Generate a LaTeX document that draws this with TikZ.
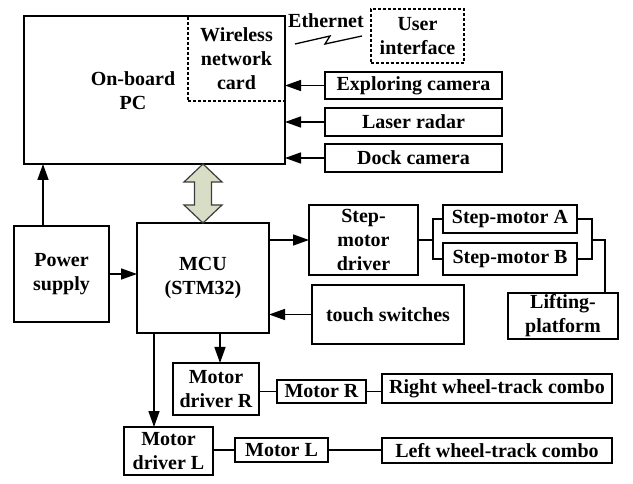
\documentclass[tikz,border=0pt]{standalone}
\usepackage{fontspec}
\setmainfont{Liberation Serif}
\definecolor{busfill}{RGB}{216,221,198}
\definecolor{busline}{RGB}{60,60,60}
\usetikzlibrary{arrows.meta,positioning,calc}

\begin{document}
\begin{tikzpicture}[
  x=1pt, y=-1pt,
  every node/.style={font=\fontsize{20}{24}\selectfont\bfseries},
  blk/.style={draw,line width=1.5pt,inner sep=0pt,outer sep=0pt,align=center},
  dblk/.style={blk,dash pattern=on 3pt off 2pt,line width=1.3pt},
  arr/.style={-{Triangle[length=16pt,width=11pt]},line width=1.5pt},
  lnk/.style={line width=1.5pt},
  bus/.style={draw=busline,fill=busfill,line width=1.2pt,line join=miter},
]
  \useasboundingbox (0,0) rectangle (633,484);

  % On-board PC and its parts
  \node[blk,minimum width=261pt,minimum height=148pt] (pc) at (154.5,90) {};
  \node (pclabel) at (133,91) [align=center] {On-board\\PC};
  \node[dblk,minimum width=97pt,minimum height=85pt] (wifi) at (236.5,58.5) {Wireless\\network\\card};

  % Ethernet link to user interface
  \node (eth) at (326,21) {Ethernet};
  \node[dblk,minimum width=93pt,minimum height=54pt] (ui) at (417.5,36) {User\\interface};
  \coordinate (ethA) at (295,44);
  \coordinate (ethB) at (362,36);
  \draw[lnk,line width=1.3pt] (ethA) -- (330,36) -- (325,44) -- (ethB);

  % Sensors (right)
  \node[blk,minimum width=177pt,minimum height=27pt] (explore) at (413.5,85.5) {Exploring camera};
  \node[blk,minimum width=177pt,minimum height=28pt] (laser) at (413.5,122) {Laser radar};
  \node[blk,minimum width=177pt,minimum height=28pt] (dock) at (413.5,158) {Dock camera};

  \draw[arr] (explore.west) -- (explore.west -| pc.east);
  \draw[arr] (laser.west) -- (laser.west -| pc.east);
  \draw[arr] (dock.west) -- (dock.west -| pc.east);

  % MCU and power
  \node[blk,minimum width=132pt,minimum height=110pt] (mcu) at (203,278) {MCU\\(STM32)};
  \node[blk,minimum width=95pt,minimum height=96pt] (power) at (61.5,274) {Power\\supply};

  \coordinate (pwup) at ([xshift=-18.5pt]power.north);
  \draw[arr] (pwup) -- (pwup |- pc.south);
  \draw[arr] (power.east) -- (power.east -| mcu.west);

  % Bus between PC and MCU
  \coordinate (bustop) at (mcu.north |- pc.south);
  \draw[bus,shift={(bustop)}] (0,0) -- (19,18) -- (8.5,18) -- (8.5,41) -- (19,41)
    -- (0,59) -- (-19,41) -- (-8.5,41) -- (-8.5,18) -- (-19,18) -- cycle;

  % Step motors and lifting platform
  \node[blk,minimum width=109pt,minimum height=70pt] (stepdrv) at (363.5,240) {Step-\\motor\\driver};
  \node[blk,minimum width=134pt,minimum height=28pt] (stepA) at (510,219) {Step-motor A};
  \node[blk,minimum width=134pt,minimum height=32pt] (stepB) at (510,259) {Step-motor B};
  \node[blk,minimum width=110pt,minimum height=46pt] (lift) at (563,316) {Lifting-\\platform};

  \draw[arr] (stepdrv.west -| mcu.east) -- (stepdrv.west);
  \coordinate (lj) at (433,240);
  \coordinate (rj) at (592,240);
  \coordinate (lt) at ([xshift=42pt]lift.north);
  \draw[lnk] (stepdrv.east) -- (lj);
  \draw[lnk] (stepA.west) -| (lj) |- (stepB.west);
  \draw[lnk] (stepA.east) -| (rj) |- (stepB.east);
  \draw[lnk] (rj) -| (lt);

  % Touch switches
  \node[blk,minimum width=152pt,minimum height=59pt] (touch) at (388,314.5) {touch switches};
  \draw[arr] (touch.west) -- (touch.west -| mcu.east);

  % Wheel drives (bottom)
  \node[blk,minimum width=86pt,minimum height=52pt] (drvR) at (216,389) {Motor\\driver R};
  \node[blk,minimum width=89pt,minimum height=48pt] (drvL) at (168.5,451) {Motor\\driver L};
  \node[blk,minimum width=89pt,minimum height=23pt] (motR) at (321.5,391.5) {Motor R};
  \node[blk,minimum width=93pt,minimum height=24pt] (motL) at (281.5,450) {Motor L};
  \node[blk,minimum width=230pt,minimum height=29pt] (rwt) at (497,388.5) {Right wheel-track combo};
  \node[blk,minimum width=230pt,minimum height=25pt] (lwt) at (497,450.5) {Left wheel-track combo};

  \coordinate (dlin) at ([xshift=-14.5pt]drvL.north);
  \draw[arr] ([xshift=4pt]drvR.north |- mcu.south) -- ([xshift=4pt]drvR.north);
  \draw[arr] (dlin |- mcu.south) -- (dlin);

  \draw[lnk] (motR.west -| drvR.east) -- (motR.west);
  \draw[lnk] (motR.east) -- (motR.east -| rwt.west);
  \draw[lnk] (motL.west -| drvL.east) -- (motL.west);
  \draw[lnk] (motL.east) -- (motL.east -| lwt.west);
\end{tikzpicture}
\end{document}
